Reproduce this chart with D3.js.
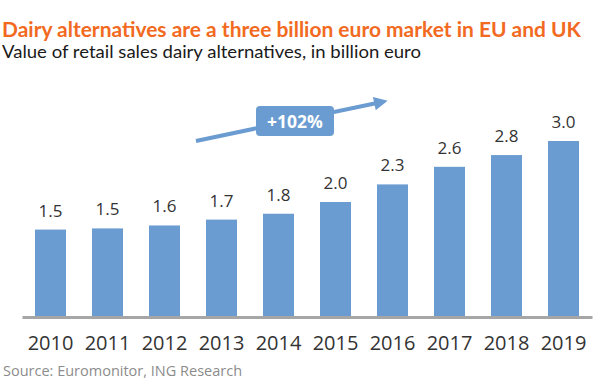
<!DOCTYPE html>
<html>
<head>
<meta charset="utf-8">
<script src="https://cdn.jsdelivr.net/npm/d3@7"></script>
<style>
  html, body { margin: 0; padding: 0; background: #fff; }
  svg { display: block; }
</style>
</head>
<body>
<div id="chart"></div>
<script>
// data
const years = ['2010', '2011', '2012', '2013', '2014', '2015', '2016', '2017', '2018', '2019'];
const sales = [1.49, 1.51, 1.56, 1.66, 1.76, 1.96, 2.26, 2.56, 2.76, 3.0];
const growthLabel = '+102%';

const W = 600, H = 386;
const blue = '#6a9bd1';

const svg = d3.select('#chart').append('svg')
  .attr('width', W).attr('height', H);

const x = d3.scaleBand().domain(years).range([22, 592])
  .paddingInner(0.456).paddingOuter(0.228);
const y = d3.scaleLinear().domain([0, 3]).range([317, 141]);

// titles
svg.append('text')
  .attr('x', 2).attr('y', 37)
  .attr('font-family', 'Lato, sans-serif').attr('font-weight', 700)
  .attr('font-size', 20).attr('fill', '#f26a21')
  .attr('textLength', 579).attr('lengthAdjust', 'spacingAndGlyphs')
  .text('Dairy alternatives are a three billion euro market in EU and UK');

svg.append('text')
  .attr('x', 2).attr('y', 58)
  .attr('font-family', 'Lato, sans-serif')
  .attr('font-size', 18).attr('fill', '#1a1a1a')
  .attr('textLength', 419).attr('lengthAdjust', 'spacingAndGlyphs')
  .text('Value of retail sales dairy alternatives, in billion euro');

// bars
svg.selectAll('rect.bar')
  .data(years)
  .join('rect')
  .attr('class', 'bar')
  .attr('x', d => x(d))
  .attr('width', x.bandwidth())
  .attr('y', (d, i) => y(sales[i]))
  .attr('height', (d, i) => y(0) - y(sales[i]))
  .attr('fill', blue);

// value labels
svg.selectAll('text.val')
  .data(years)
  .join('text')
  .attr('class', 'val')
  .attr('x', d => x(d) + x.bandwidth() / 2)
  .attr('y', (d, i) => y(sales[i]) - 13)
  .attr('text-anchor', 'middle')
  .style('font-family', '"Open Sans", sans-serif')
  .style('font-size', '17px').attr('fill', '#333')
  .text((d, i) => d3.format('.1f')(sales[i]));

// baseline axis
const xAxis = svg.append('g')
  .attr('transform', `translate(0,${y(0)})`)
  .call(d3.axisBottom(x).tickSize(0).tickPadding(19));
xAxis.select('.domain').attr('stroke', '#a6a6a6').attr('stroke-width', 3);
xAxis.selectAll('text')
  .style('font-family', '"Open Sans", sans-serif')
  .style('font-size', '20px').attr('fill', '#333');

// growth arrow annotation
const defs = svg.append('defs');
defs.append('marker')
  .attr('id', 'head')
  .attr('viewBox', '0 0 10 10')
  .attr('refX', 2).attr('refY', 5)
  .attr('markerWidth', 4).attr('markerHeight', 3.4)
  .attr('markerUnits', 'strokeWidth')
  .attr('orient', 'auto')
  .append('path').attr('d', 'M0,0L10,5L0,10z').attr('fill', blue);

svg.append('line')
  .attr('x1', 196).attr('y1', 141)
  .attr('x2', 377).attr('y2', 103)
  .attr('stroke', blue).attr('stroke-width', 4)
  .attr('marker-end', 'url(#head)');

svg.append('rect')
  .attr('x', 256).attr('y', 106)
  .attr('width', 78).attr('height', 30)
  .attr('rx', 4).attr('fill', blue);

svg.append('text')
  .attr('x', 295).attr('y', 128)
  .attr('text-anchor', 'middle')
  .attr('font-family', '"Open Sans", sans-serif').attr('font-weight', 700)
  .attr('font-size', 17.5).attr('fill', '#fff')
  .text(growthLabel);

// source
svg.append('text')
  .attr('x', 3).attr('y', 376)
  .attr('font-family', '"Open Sans", sans-serif')
  .attr('font-size', 14.5).attr('fill', '#8c8c8c')
  .text('Source: Euromonitor, ING Research');
</script>
</body>
</html>
